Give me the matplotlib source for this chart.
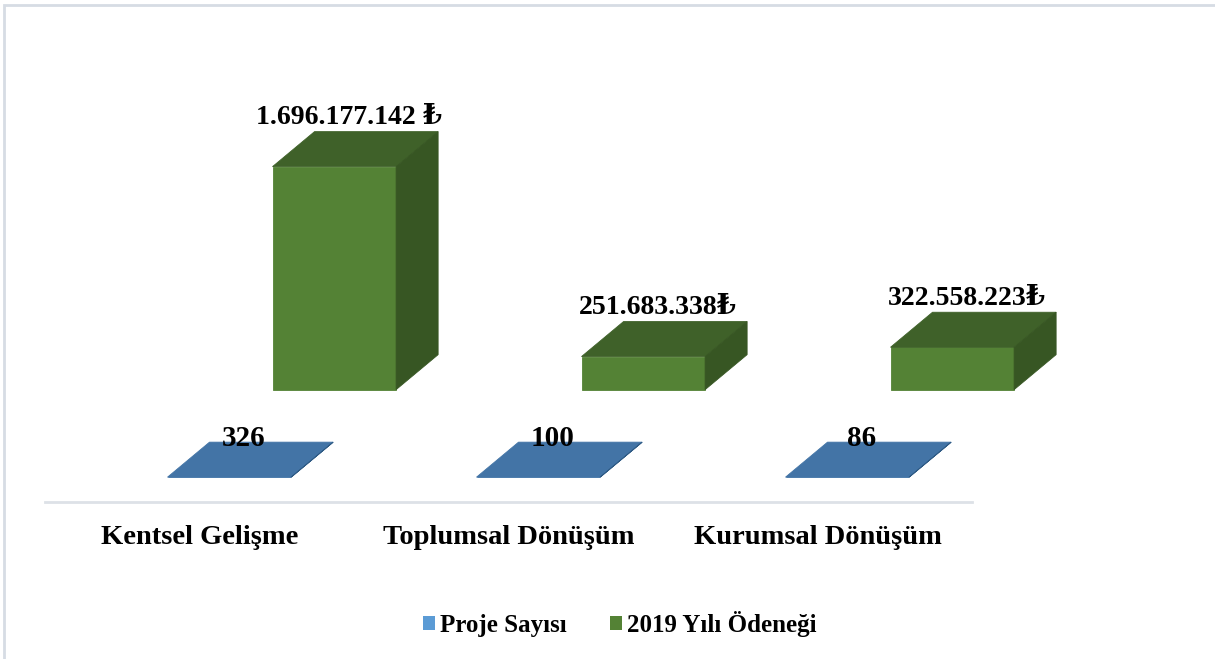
import matplotlib
matplotlib.use("Agg")
import matplotlib.pyplot as plt
from matplotlib.patches import Polygon, Rectangle
from matplotlib.transforms import IdentityTransform

# data
categories = ["Kentsel Gelişme", "Toplumsal Dönüşüm", "Kurumsal Dönüşüm"]
proje_sayisi = [326, 100, 86]
odenek_2019 = [1696177142, 251683338, 322558223]
odenek_labels = ["1.696.177.142 ₺", "251.683.338₺", "322.558.223₺"]
series_names = ["Proje Sayısı", "2019 Yılı Ödeneği"]

W, H = 1215, 659
FONT = ["Liberation Serif", "DejaVu Serif", "DejaVu Sans"]

# colours of the 3D faces
BLUE = {"front": "#4a7cb0", "top": "#4374a6", "side": "#2f5b85"}
GREEN = {"front": "#548235", "top": "#3f6129", "side": "#375623"}

# oblique depth offset in pixels per bar depth
DX, DY = 42, 35
BAR_W = 0.40
DEPTH_ROW = [0.71, 3.21]   # front face depth of each series row

fig = plt.figure(figsize=(W / 100, H / 100), dpi=100)
floor_left, floor_right, floor_y = 45, 972, 502
ax_h = 420
ax = fig.add_axes([floor_left / W, (H - floor_y) / H,
                   (floor_right - floor_left) / W, ax_h / H])
ax.set_xlim(-0.5, len(categories) - 0.5)
ax.set_ylim(0, ax_h * 1.696e9 / 223)
ax.axis("off")


def proj(x, v, depth):
    px, py = ax.transData.transform((x, v))
    return (px + DX * depth, py + DY * depth)


def face(verts, color):
    fig.add_artist(Polygon(verts, closed=True, transform=IdentityTransform(),
                           facecolor=color, edgecolor=color, lw=0.6))


def box(i, value, d, colors):
    x0, x1 = i - BAR_W / 2, i + BAR_W / 2
    face([proj(x0, 0, d), proj(x1, 0, d), proj(x1, value, d), proj(x0, value, d)],
         colors["front"])
    face([proj(x0, value, d), proj(x1, value, d),
          proj(x1, value, d + 1), proj(x0, value, d + 1)], colors["top"])
    face([proj(x1, 0, d), proj(x1, 0, d + 1),
          proj(x1, value, d + 1), proj(x1, value, d)], colors["side"])


def label(x, y, s, size, **kw):
    fig.text(x, y, s, transform=IdentityTransform(), fontsize=size,
             fontweight="bold", family=FONT, color="black", **kw)


# back row (green) first, then the front row (blue)
for i, v in enumerate(odenek_2019):
    box(i, v, DEPTH_ROW[1], GREEN)
    x, y = proj(i, v, DEPTH_ROW[1] + 0.35)
    label(x, y + 24, odenek_labels[i], 20, ha="center", va="bottom")

for i, v in enumerate(proje_sayisi):
    box(i, v, DEPTH_ROW[0], BLUE)
    x, y = proj(i, v, DEPTH_ROW[0] + 0.35)
    label(x, y + 13, str(v), 21, ha="center", va="bottom")

# horizontal axis line and category labels
fig.add_artist(plt.Line2D([floor_left, floor_right], [H - floor_y, H - floor_y],
                          transform=IdentityTransform(), color="#dde1e7", lw=2))
for i, cat in enumerate(categories):
    x, y = proj(i, 0, 0)
    label(x, y - 36, cat, 20.5, ha="center", va="center")

# legend
handles = [Rectangle((0, 0), 1, 1, facecolor="#5b9bd5"),
           Rectangle((0, 0), 1, 1, facecolor="#548235")]
fig.legend(handles, series_names, loc="center", bbox_to_anchor=(0.51, 0.053),
           ncol=2, frameon=False, handlelength=0.5, handleheight=0.5,
           handletextpad=0.2, columnspacing=1.7,
           prop={"family": FONT, "weight": "bold", "size": 18})

# thin chart frame (only top and left edges are in view)
fig.add_artist(Rectangle((4, -10), W + 10, H - 5 + 10, transform=IdentityTransform(),
                         facecolor="none", edgecolor="#d6dce4", lw=2))

fig.savefig("out.png", dpi=100)
